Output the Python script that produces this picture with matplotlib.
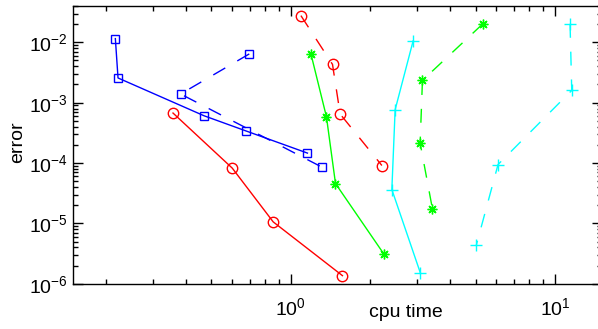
import matplotlib
matplotlib.use('Agg')
import matplotlib.pyplot as plt

plt.rcParams['font.family'] = ['Liberation Sans', 'DejaVu Sans']
plt.rcParams['mathtext.fontset'] = 'custom'
plt.rcParams['mathtext.rm'] = 'Liberation Sans'
plt.rcParams['mathtext.it'] = 'Liberation Sans:italic'
plt.rcParams['mathtext.bf'] = 'Liberation Sans:bold'

# cpu time / error
blue_solid_t = [0.2164, 0.2215, 0.4687, 0.6733, 1.155]
blue_solid_e = [1.152e-2, 2.566e-3, 6.07e-4, 3.42e-4, 1.46e-4]
blue_dash_t = [0.6955, 0.3822, 1.310]
blue_dash_e = [6.42e-3, 1.392e-3, 8.55e-5]

red_solid_t = [0.3577, 0.5996, 0.8570, 1.567]
red_solid_e = [6.73e-4, 8.23e-5, 1.057e-5, 1.36e-6]
red_dash_t = [1.091, 1.437, 1.536, 2.210]
red_dash_e = [2.77e-2, 4.31e-3, 6.48e-4, 9.09e-5]

green_solid_t = [1.190, 1.363, 1.475, 2.248]
green_solid_e = [6.49e-3, 5.84e-4, 4.57e-5, 3.11e-6]
green_dash_t = [5.326, 3.148, 3.085, 3.434]
green_dash_e = [2.02e-2, 2.34e-3, 2.14e-4, 1.74e-5]

cyan_solid_t = [2.902, 2.481, 2.411, 3.094]
cyan_solid_e = [1.055e-2, 7.64e-4, 3.63e-5, 1.49e-6]
cyan_dash_t = [11.40, 11.57, 6.085, 5.038]
cyan_dash_e = [2.02e-2, 1.597e-3, 9.44e-5, 4.39e-6]

fig = plt.figure(figsize=(5.98, 3.29), dpi=100)
ax = fig.add_axes([0.1226, 0.1377, 0.8833, 0.8441])

dash = (0, (10, 10))
lw = 1.0

ax.plot(blue_solid_t, blue_solid_e, '-', color='#0000ff', lw=lw,
        marker='s', ms=6, mfc='none', mew=1.0)
ax.plot(blue_dash_t, blue_dash_e, linestyle=dash, color='#0000ff', lw=lw,
        marker='s', ms=6, mfc='none', mew=1.0)
ax.plot(red_solid_t, red_solid_e, '-', color='#ff0000', lw=lw,
        marker='o', ms=7.5, mfc='none', mew=1.0)
ax.plot(red_dash_t, red_dash_e, linestyle=dash, color='#ff0000', lw=lw,
        marker='o', ms=7.5, mfc='none', mew=1.0)
ax.plot(green_solid_t, green_solid_e, '-', color='#00ff00', lw=lw,
        marker=(8, 2, 0), ms=7, mew=1.0)
ax.plot(green_dash_t, green_dash_e, linestyle=dash, color='#00ff00', lw=lw,
        marker=(8, 2, 0), ms=7, mew=1.0)
ax.plot(cyan_solid_t, cyan_solid_e, '-', color='#00ffff', lw=lw,
        marker='+', ms=9, mew=1.0)
ax.plot(cyan_dash_t, cyan_dash_e, linestyle=dash, color='#00ffff', lw=lw,
        marker='+', ms=9, mew=1.0)

ax.set_xscale('log')
ax.set_yscale('log')
ax.set_xlim(0.15, 15)
ax.set_ylim(1e-6, 0.04)

ax.tick_params(which='both', direction='in', top=True, right=True,
               labelsize=14, width=1.0)
ax.tick_params(which='major', length=7)
ax.tick_params(which='minor', length=3.6)
ax.tick_params(axis='x', pad=10)
ax.tick_params(axis='y', pad=4)
for s in ax.spines.values():
    s.set_linewidth(1.0)

ax.set_ylabel('error', fontsize=14)
ax.yaxis.set_label_coords(-0.105, 0.51)
ax.yaxis.label.set_va('center')
ax.set_xlabel('cpu time', fontsize=14)
ax.xaxis.set_label_coords(0.63, -0.102)
ax.xaxis.label.set_va('center')

fig.savefig('out.png', dpi=100)
